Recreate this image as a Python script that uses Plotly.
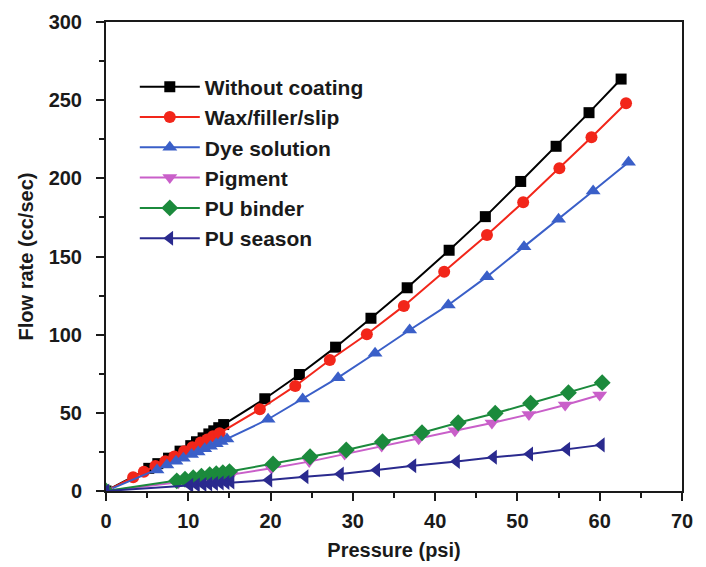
import plotly.graph_objects as go

# ---- data ----
names = ["Without coating", "Wax/filler/slip", "Dye solution", "Pigment", "PU binder", "PU season"]

x_without = [0, 5.2, 6.3, 7.6, 9.0, 10.3, 11.0, 11.8, 12.5, 13.1, 13.7, 14.3, 19.3, 23.5, 27.9, 32.2, 36.6, 41.7, 46.1, 50.4, 54.7, 58.7, 62.6]
y_without = [0, 14.5, 17.5, 21, 25.5, 29, 31.5, 34, 36.5, 38.5, 40.5, 42.5, 59, 74.5, 92, 110.5, 130, 154, 175.5, 198, 220.5, 242, 263.5]

x_wax = [0, 3.3, 4.6, 6.0, 7.2, 8.3, 9.5, 10.5, 11.5, 12.3, 13.0, 13.8, 18.7, 23.0, 27.2, 31.7, 36.2, 41.1, 46.3, 50.7, 55.1, 59.0, 63.2]
y_wax = [0, 8.8, 12.3, 16, 19, 22, 25.5, 28, 31, 33, 35, 37, 52.3, 67.2, 83.8, 100.3, 118.4, 140.3, 163.8, 184.7, 206.5, 226.3, 248]

x_dye = [0, 6.2, 7.4, 8.5, 9.4, 10.4, 11.2, 12.0, 12.7, 13.4, 14.0, 14.7, 19.7, 23.9, 28.2, 32.7, 36.9, 41.6, 46.3, 50.8, 55.0, 59.2, 63.5]
y_dye = [0, 13.5, 16.6, 19, 21, 23.3, 25, 27, 28.6, 30.2, 31.6, 33.3, 45.9, 58.9, 72.5, 88.1, 103, 119, 137.1, 156.3, 173.8, 191.9, 210.3]

x_pigment = [0, 8.8, 9.8, 10.8, 11.8, 12.8, 13.6, 14.4, 15.2, 20.1, 24.7, 29.0, 33.5, 38.0, 42.4, 46.9, 51.4, 55.8, 60.0]
y_pigment = [0, 5.3, 6.0, 6.8, 7.6, 8.4, 9.0, 9.6, 10.2, 14.5, 18.8, 23.7, 28.8, 33.5, 38.5, 43.5, 49.0, 55.0, 61.4]

x_binder = [0, 8.6, 9.6, 10.6, 11.6, 12.6, 13.4, 14.2, 15.0, 20.3, 24.8, 29.2, 33.6, 38.4, 42.8, 47.3, 51.6, 56.2, 60.3]
y_binder = [0, 6.5, 7.5, 8.5, 9.5, 10.4, 11.0, 11.7, 12.4, 17.3, 21.9, 26.2, 31.5, 37.3, 43.7, 49.7, 56.1, 62.9, 69.3]

x_season = [0, 10.2, 11.0, 11.8, 12.5, 13.2, 13.9, 14.6, 15.2, 19.8, 24.2, 28.5, 32.9, 37.3, 42.6, 47.1, 51.5, 56.0, 60.2]
y_season = [0, 3.6, 3.9, 4.2, 4.5, 4.8, 5.1, 5.4, 5.7, 7.0, 9.1, 10.9, 13.4, 16.2, 18.8, 21.6, 23.7, 26.7, 29.5]

x_ticks = [0, 10, 20, 30, 40, 50, 60, 70]
y_ticks = [0, 50, 100, 150, 200, 250, 300]

series = [
    (x_without, y_without, "#000000", "square", 11),
    (x_wax, y_wax, "#f2261a", "circle", 12),
    (x_dye, y_dye, "#3a5fc8", "triangle-up", 13),
    (x_pigment, y_pigment, "#c95fc9", "triangle-down", 13),
    (x_binder, y_binder, "#1b8a3c", "diamond", 13),
    (x_season, y_season, "#2a2a8e", "triangle-left", 13),
]

FONT = "Liberation Sans, Arial, sans-serif"

fig = go.Figure()
for name, (xs, ys, col, sym, sz) in zip(names, series):
    fig.add_trace(go.Scatter(
        x=xs, y=ys, name=name, mode="lines+markers",
        line=dict(color=col, width=2),
        marker=dict(color=col, symbol=sym, size=sz, line=dict(width=0)),
        legendgroup=name,
    ))

axis_common = dict(
    showgrid=False, zeroline=False, showline=True, linecolor="#1a1a1a", linewidth=2,
    mirror=True, ticks="outside", ticklen=8, tickwidth=2, tickcolor="#1a1a1a",
    tickfont=dict(family=FONT, size=20, color="#1a1a1a", weight="bold"),
    automargin=False,
)

fig.update_xaxes(
    range=[0, 70], tickvals=x_ticks, ticktext=[str(v) for v in x_ticks],
    minor=dict(ticks="outside", ticklen=5, tickwidth=2, tickcolor="#1a1a1a", dtick=5, tick0=0),
    ticklabelstandoff=3,
    title=dict(text="<b>Pressure (psi)</b>", font=dict(family=FONT, size=20, color="#1a1a1a"), standoff=12),
    **axis_common,
)
fig.update_yaxes(
    range=[0, 300], tickvals=y_ticks, ticktext=[str(v) for v in y_ticks],
    minor=dict(ticks="outside", ticklen=5, tickwidth=2, tickcolor="#1a1a1a", dtick=25, tick0=0),
    ticklabelstandoff=10,
    title=dict(text="<b>Flow rate (cc/sec)</b>", font=dict(family=FONT, size=20, color="#1a1a1a"), standoff=10),
    **axis_common,
)

fig.update_layout(
    width=706, height=567,
    margin=dict(l=106, r=24, t=22, b=76),
    paper_bgcolor="white", plot_bgcolor="white",
    showlegend=True,
    legend=dict(
        x=0.05, y=0.905, xanchor="left", yanchor="top",
        bgcolor="rgba(0,0,0,0)", borderwidth=0,
        font=dict(family=FONT, size=21, color="#1a1a1a", weight="bold"),
        itemwidth=60, tracegroupgap=5, traceorder="normal",
    ),
)

fig.write_html("out.html")
